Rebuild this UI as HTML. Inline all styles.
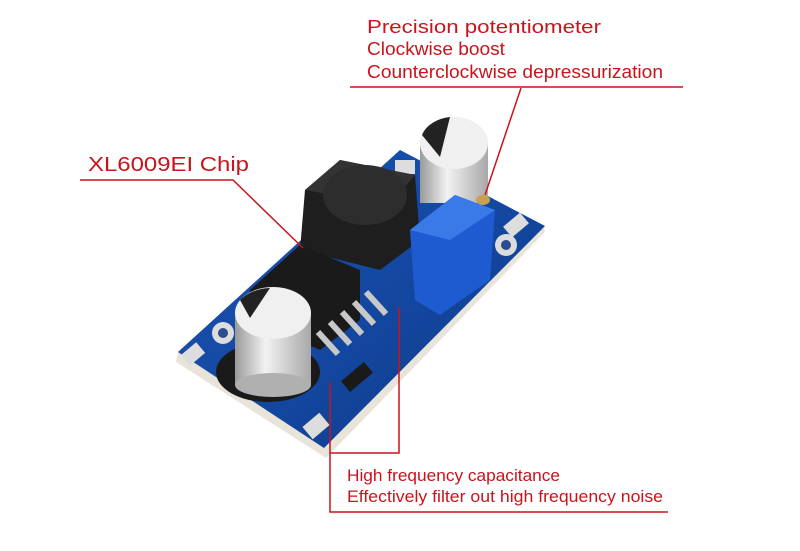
<!DOCTYPE html>
<html><head><meta charset="utf-8"><style>
html,body{margin:0;padding:0;background:#fff;}
svg{display:block}
text{font-family:"Liberation Sans",sans-serif;fill:#c8141c}
</style></head><body>
<svg width="800" height="551" viewBox="0 0 800 551" xmlns="http://www.w3.org/2000/svg">
<rect width="800" height="551" fill="#fff"/>
<defs>
<linearGradient id="cap" x1="0" x2="1" y1="0" y2="0">
<stop offset="0" stop-color="#9a9a9a"/><stop offset="0.4" stop-color="#f2f2f2"/><stop offset="1" stop-color="#a8a8a8"/>
</linearGradient>
<linearGradient id="brd" x1="0" x2="1" y1="0" y2="1">
<stop offset="0" stop-color="#1b56b8"/><stop offset="1" stop-color="#0d3a8a"/>
</linearGradient>
</defs>
<!-- board -->
<polygon points="176,362 326,458 545,232 543,226 400,150 178,352" fill="#e8e4da"/>
<polygon points="178,352 324,448 545,226 400,150" fill="url(#brd)"/>
<!-- pads -->
<rect x="183" y="347" width="20" height="14" fill="#ddd" transform="rotate(-40 193 354)"/>
<rect x="305" y="418" width="22" height="16" fill="#ddd" transform="rotate(-40 316 426)"/>
<rect x="505" y="218" width="22" height="14" fill="#ddd" transform="rotate(-40 516 225)"/>
<circle cx="223" cy="333" r="11" fill="#ddd"/><circle cx="223" cy="333" r="5" fill="#2a4d90"/>
<circle cx="506" cy="245" r="11" fill="#ddd"/><circle cx="506" cy="245" r="5" fill="#2a4d90"/>
<rect x="395" y="160" width="20" height="14" fill="#ddd"/>
<!-- inductor -->
<polygon points="305,190 340,160 415,175 420,240 380,270 300,250" fill="#1e1e1e"/>
<polygon points="305,190 340,160 415,175 390,205" fill="#333"/>
<ellipse cx="365" cy="195" rx="42" ry="30" fill="#2d2d2d"/>
<!-- chip -->
<polygon points="250,290 300,245 360,270 360,320 320,350 250,320" fill="#1a1a1a"/>
<g stroke="#c8c8c8" stroke-width="6" fill="none">
<path d="M318,332 l20,22"/><path d="M330,322 l20,22"/><path d="M342,312 l20,22"/><path d="M354,302 l20,22"/><path d="M366,292 l20,22"/>
</g>
<rect x="350" y="362" width="14" height="30" fill="#1a1a1a" transform="rotate(50 357 377)"/>
<!-- left cap -->
<ellipse cx="268" cy="372" rx="52" ry="30" fill="#1a1a1a"/>
<rect x="235" y="313" width="76" height="72" fill="url(#cap)"/>
<ellipse cx="273" cy="385" rx="38" ry="12" fill="#b0b0b0"/>
<ellipse cx="273" cy="313" rx="38" ry="26" fill="#f0f0f0"/>
<path d="M240,300 a38,26 0 0 1 30,-12 l-20,30 z" fill="#222"/>
<!-- top cap -->
<rect x="420" y="143" width="68" height="60" fill="url(#cap)"/>
<ellipse cx="454" cy="143" rx="34" ry="26" fill="#f0f0f0"/>
<path d="M422,135 a34,26 0 0 1 28,-18 l-10,40 z" fill="#222"/>
<!-- pot -->
<polygon points="410,230 455,195 495,210 490,280 440,315 415,300" fill="#1f5bd0"/>
<polygon points="410,230 455,195 495,210 450,240" fill="#3a7ae8"/>
<ellipse cx="483" cy="200" rx="7" ry="5" fill="#c9a050"/>
<!-- labels -->
<text x="367" y="33" font-size="18" textLength="234" lengthAdjust="spacingAndGlyphs">Precision potentiometer</text>
<text x="367" y="55" font-size="18" textLength="138" lengthAdjust="spacingAndGlyphs">Clockwise boost</text>
<text x="367" y="78" font-size="18" textLength="296" lengthAdjust="spacingAndGlyphs">Counterclockwise depressurization</text>
<text x="88" y="171" font-size="20" textLength="161" lengthAdjust="spacingAndGlyphs">XL6009EI Chip</text>
<text x="347" y="481" font-size="16.5" textLength="213" lengthAdjust="spacingAndGlyphs">High frequency capacitance</text>
<text x="347" y="502" font-size="16.5" textLength="316" lengthAdjust="spacingAndGlyphs">Effectively filter out high frequency noise</text>
<g stroke="#c8141c" stroke-width="1.5" fill="none">
<path d="M350,87 H683"/>
<path d="M521,88 L485,195"/>
<path d="M80,180 H233 L303,248"/>
<path d="M330,382 V512 H668"/>
<path d="M399,307 V453 H330"/>
</g>
</svg>
</body></html>
